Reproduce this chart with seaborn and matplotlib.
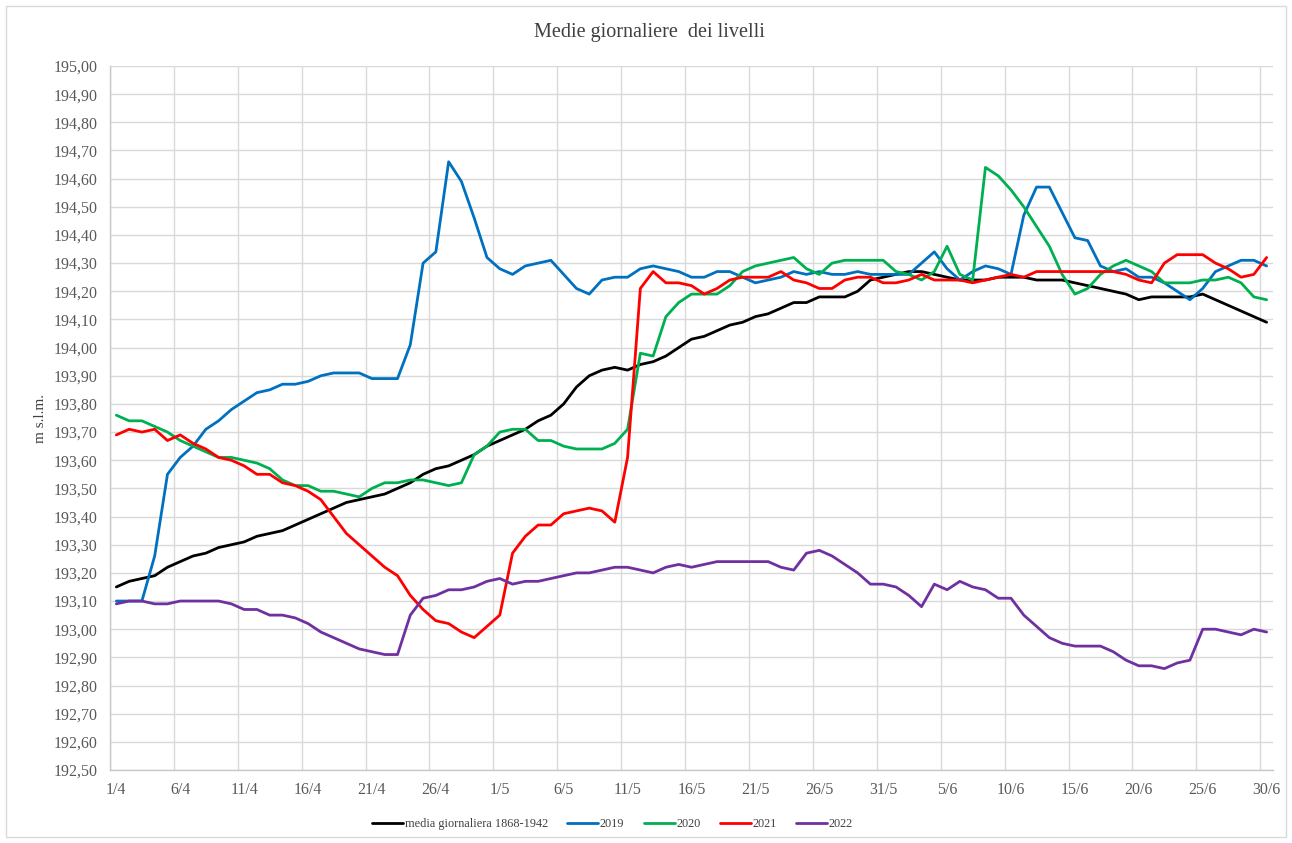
import numpy as np
import pandas as pd
import matplotlib
matplotlib.use("Agg")
import matplotlib.pyplot as plt
import seaborn as sns
from matplotlib.ticker import FixedLocator, FuncFormatter
from matplotlib.patches import Rectangle

# Giorni dal 1/4 al 30/6
giorni = pd.date_range("2022-04-01", "2022-06-30", freq="D")
etichette = [f"{d.day}/{d.month}" for d in giorni]

# Livelli medi giornalieri (m s.l.m.)
media_1868_1942 = [
    193.15, 193.17, 193.18, 193.19, 193.22, 193.24, 193.26, 193.27, 193.29, 193.30,
    193.31, 193.33, 193.34, 193.35, 193.37, 193.39, 193.41, 193.43, 193.45, 193.46,
    193.47, 193.48, 193.50, 193.52, 193.55, 193.57, 193.58, 193.60, 193.62, 193.65,
    193.67, 193.69, 193.71, 193.74, 193.76, 193.80, 193.86, 193.90, 193.92, 193.93,
    193.92, 193.94, 193.95, 193.97, 194.00, 194.03, 194.04, 194.06, 194.08, 194.09,
    194.11, 194.12, 194.14, 194.16, 194.16, 194.18, 194.18, 194.18, 194.20, 194.24,
    194.25, 194.26, 194.27, 194.27, 194.26, 194.25, 194.24, 194.24, 194.24, 194.25,
    194.25, 194.25, 194.24, 194.24, 194.24, 194.23, 194.22, 194.21, 194.20, 194.19,
    194.17, 194.18, 194.18, 194.18, 194.18, 194.19, 194.17, 194.15, 194.13, 194.11,
    194.09,
]
livelli_2019 = [
    193.10, 193.10, 193.10, 193.26, 193.55, 193.61, 193.65, 193.71, 193.74, 193.78,
    193.81, 193.84, 193.85, 193.87, 193.87, 193.88, 193.90, 193.91, 193.91, 193.91,
    193.89, 193.89, 193.89, 194.01, 194.30, 194.34, 194.66, 194.59, 194.46, 194.32,
    194.28, 194.26, 194.29, 194.30, 194.31, 194.26, 194.21, 194.19, 194.24, 194.25,
    194.25, 194.28, 194.29, 194.28, 194.27, 194.25, 194.25, 194.27, 194.27, 194.25,
    194.23, 194.24, 194.25, 194.27, 194.26, 194.27, 194.26, 194.26, 194.27, 194.26,
    194.26, 194.26, 194.26, 194.30, 194.34, 194.28, 194.24, 194.27, 194.29, 194.28,
    194.26, 194.47, 194.57, 194.57, 194.48, 194.39, 194.38, 194.29, 194.27, 194.28,
    194.25, 194.25, 194.23, 194.20, 194.17, 194.21, 194.27, 194.29, 194.31, 194.31,
    194.29,
]
livelli_2020 = [
    193.76, 193.74, 193.74, 193.72, 193.70, 193.67, 193.65, 193.63, 193.61, 193.61,
    193.60, 193.59, 193.57, 193.53, 193.51, 193.51, 193.49, 193.49, 193.48, 193.47,
    193.50, 193.52, 193.52, 193.53, 193.53, 193.52, 193.51, 193.52, 193.62, 193.65,
    193.70, 193.71, 193.71, 193.67, 193.67, 193.65, 193.64, 193.64, 193.64, 193.66,
    193.71, 193.98, 193.97, 194.11, 194.16, 194.19, 194.19, 194.19, 194.22, 194.27,
    194.29, 194.30, 194.31, 194.32, 194.28, 194.26, 194.30, 194.31, 194.31, 194.31,
    194.31, 194.27, 194.26, 194.24, 194.27, 194.36, 194.26, 194.24, 194.64, 194.61,
    194.56, 194.50, 194.43, 194.36, 194.26, 194.19, 194.21, 194.26, 194.29, 194.31,
    194.29, 194.27, 194.23, 194.23, 194.23, 194.24, 194.24, 194.25, 194.23, 194.18,
    194.17,
]
livelli_2021 = [
    193.69, 193.71, 193.70, 193.71, 193.67, 193.69, 193.66, 193.64, 193.61, 193.60,
    193.58, 193.55, 193.55, 193.52, 193.51, 193.49, 193.46, 193.40, 193.34, 193.30,
    193.26, 193.22, 193.19, 193.12, 193.07, 193.03, 193.02, 192.99, 192.97, 193.01,
    193.05, 193.27, 193.33, 193.37, 193.37, 193.41, 193.42, 193.43, 193.42, 193.38,
    193.61, 194.21, 194.27, 194.23, 194.23, 194.22, 194.19, 194.21, 194.24, 194.25,
    194.25, 194.25, 194.27, 194.24, 194.23, 194.21, 194.21, 194.24, 194.25, 194.25,
    194.23, 194.23, 194.24, 194.26, 194.24, 194.24, 194.24, 194.23, 194.24, 194.25,
    194.26, 194.25, 194.27, 194.27, 194.27, 194.27, 194.27, 194.27, 194.27, 194.26,
    194.24, 194.23, 194.30, 194.33, 194.33, 194.33, 194.30, 194.28, 194.25, 194.26,
    194.32,
]
livelli_2022 = [
    193.09, 193.10, 193.10, 193.09, 193.09, 193.10, 193.10, 193.10, 193.10, 193.09,
    193.07, 193.07, 193.05, 193.05, 193.04, 193.02, 192.99, 192.97, 192.95, 192.93,
    192.92, 192.91, 192.91, 193.05, 193.11, 193.12, 193.14, 193.14, 193.15, 193.17,
    193.18, 193.16, 193.17, 193.17, 193.18, 193.19, 193.20, 193.20, 193.21, 193.22,
    193.22, 193.21, 193.20, 193.22, 193.23, 193.22, 193.23, 193.24, 193.24, 193.24,
    193.24, 193.24, 193.22, 193.21, 193.27, 193.28, 193.26, 193.23, 193.20, 193.16,
    193.16, 193.15, 193.12, 193.08, 193.16, 193.14, 193.17, 193.15, 193.14, 193.11,
    193.11, 193.05, 193.01, 192.97, 192.95, 192.94, 192.94, 192.94, 192.92, 192.89,
    192.87, 192.87, 192.86, 192.88, 192.89, 193.00, 193.00, 192.99, 192.98, 193.00,
    192.99,
]

serie = {
    "media giornaliera 1868-1942": media_1868_1942,
    "2019": livelli_2019,
    "2020": livelli_2020,
    "2021": livelli_2021,
    "2022": livelli_2022,
}
colori = ["#000000", "#0070C0", "#00B050", "#FF0000", "#7030A0"]

# DataFrame in formato lungo per seaborn
df = pd.concat(
    [pd.DataFrame({"giorno": np.arange(len(giorni)), "livello": v, "serie": k})
     for k, v in serie.items()],
    ignore_index=True,
)

sns.set_theme(style="white")
plt.rcParams["font.family"] = ["Liberation Serif", "DejaVu Serif"]

fig = plt.figure(figsize=(12.92, 8.43), dpi=100)
ax = fig.add_axes([0.0851, 0.0866, 0.9002, 0.8351])

sns.lineplot(data=df, x="giorno", y="livello", hue="serie",
             hue_order=list(serie.keys()), palette=colori,
             linewidth=2.0, sort=False, ax=ax, legend=True)

# Assi
ax.set_xlim(-0.5, len(giorni) - 0.5)
ax.set_ylim(192.5, 195.0)
ax.set_yticks(np.arange(192.5, 195.001, 0.1))
ax.yaxis.set_major_formatter(FuncFormatter(lambda v, p: f"{v:.2f}".replace(".", ",")))
ax.xaxis.set_major_locator(FixedLocator(np.arange(0, len(giorni), 5)))
ax.set_xticklabels(etichette[::5])
ax.xaxis.set_minor_locator(FixedLocator(np.arange(-0.5, len(giorni), 5)))
ax.set_xlabel("")
ax.set_ylabel("")

ax.grid(False)
ax.yaxis.grid(True, which="major", color="#d9d9d9", linewidth=1.0)
ax.xaxis.grid(True, which="minor", color="#d9d9d9", linewidth=1.0)
ax.tick_params(axis="both", which="both", length=0, labelsize=11.5, colors="#595959")
ax.tick_params(axis="x", pad=9)
ax.tick_params(axis="y", pad=9)
for s in ["top", "right"]:
    ax.spines[s].set_visible(False)
for s in ["left", "bottom"]:
    ax.spines[s].set_color("#c8c8c8")
    ax.spines[s].set_linewidth(1.0)

# Titolo ed etichetta asse y
fig.text(0.503, 0.962, "Medie giornaliere  dei livelli", ha="center", va="center",
         fontsize=14.5, color="#404040")
fig.text(0.031, 0.504, "m s.l.m.", rotation=90, ha="center", va="center",
         fontsize=11, color="#404040")

# Legenda in basso
handles, labels = ax.get_legend_handles_labels()
ax.get_legend().remove()
leg = fig.legend(handles, labels, loc="center", bbox_to_anchor=(0.474, 0.0225),
                 ncol=5, frameon=False, fontsize=8.8, handlelength=2.55,
                 handletextpad=0.1, columnspacing=1.6)
for t in leg.get_texts():
    t.set_color("#404040")

# Bordo dell'area del grafico
fig.patches.append(Rectangle((6 / 1292, 6 / 843), 1280 / 1292, 831 / 843,
                             transform=fig.transFigure, fill=False,
                             edgecolor="#d9d9d9", linewidth=1.0))

fig.savefig("out.png", dpi=100)
